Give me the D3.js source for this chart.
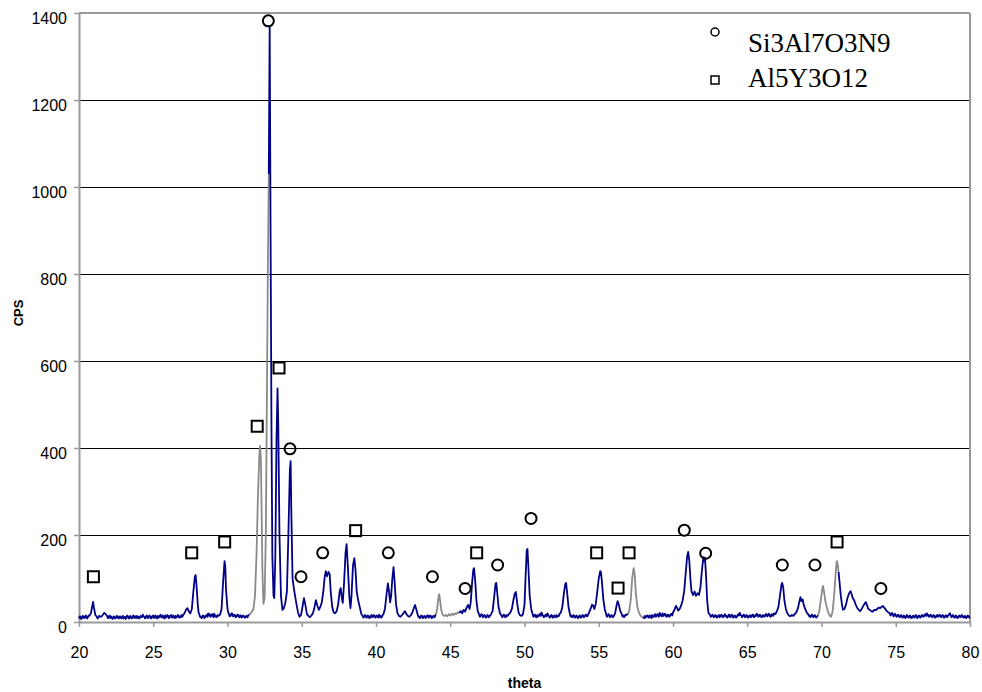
<!DOCTYPE html>
<html>
<head>
<meta charset="utf-8">
<script src="https://cdn.jsdelivr.net/npm/d3@7"></script>
<style>
  html, body { margin: 0; padding: 0; background: #fff; }
  svg { display: block; }
</style>
</head>
<body>
<svg id="chart" width="982" height="692"></svg>
<script>
// Diffraction pattern: [theta, counts per second]
const pattern = [
  [20.0,8],[20.05,13],[20.1,12],[20.15,7],[20.2,9],[20.25,14],[20.3,13],[20.35,9],[20.4,10],[20.45,15],[20.5,12],[20.55,8],[20.6,11],[20.65,15],[20.7,14],[20.8,20],[20.9,38],[20.95,46],[21.0,34],[21.1,16],[21.2,12],[21.25,8],[21.3,10],[21.35,14],[21.4,13],[21.5,12],[21.6,16],[21.7,21],[21.8,18],[21.9,13],[21.95,9],[22.0,11],
  [22.05,15],[22.1,9],[22.15,13],[22.2,12],[22.25,7],[22.3,8],[22.35,13],[22.4,11],[22.45,8],[22.5,10],[22.55,14],[22.6,13],[22.65,8],[22.7,9],[22.75,13],[22.8,12],[22.85,8],[22.9,10],[22.95,14],[23.0,8],[23.05,11],[23.1,12],[23.15,7],[23.2,10],[23.25,15],[23.3,13],[23.35,8],[23.4,9],[23.45,14],[23.5,11],[23.55,8],[23.6,10],[23.65,15],[23.7,14],[23.75,9],[23.8,11],[23.85,14],[23.9,9],[23.95,13],[24.0,12],
  [24.05,8],[24.1,10],[24.15,14],[24.2,13],[24.25,11],[24.3,17],[24.35,13],[24.4,12],[24.45,8],[24.5,10],[24.55,15],[24.6,14],[24.65,9],[24.7,11],[24.75,15],[24.8,13],[24.85,8],[24.9,10],[24.95,14],[25.0,15],[25.05,9],[25.1,12],[25.15,15],[25.2,10],[25.25,8],[25.3,14],[25.35,10],[25.4,11],[25.45,15],[25.5,17],[25.55,10],[25.6,12],[25.65,15],[25.7,10],[25.75,8],[25.8,15],[25.85,10],[25.9,12],[25.95,16],[26.0,14],
  [26.05,9],[26.1,11],[26.15,15],[26.2,16],[26.25,10],[26.3,12],[26.35,15],[26.4,10],[26.45,9],[26.5,14],[26.55,10],[26.6,12],[26.65,16],[26.7,15],[26.75,10],[26.8,13],[26.85,11],[26.9,16],[26.95,12],[27.0,15],[27.1,20],[27.2,28],[27.3,32],[27.4,24],[27.5,20],[27.6,30],[27.7,70],[27.8,104],[27.85,108],[27.9,90],[28.0,40],
  [28.05,22],[28.1,18],[28.15,12],[28.2,13],[28.25,9],[28.3,11],[28.35,15],[28.4,14],[28.45,9],[28.5,12],[28.55,15],[28.6,16],[28.65,12],[28.7,20],[28.75,15],[28.8,18],[28.85,12],[28.9,14],[28.95,18],[29.0,16],[29.05,11],[29.1,19],[29.15,13],[29.2,15],[29.25,11],[29.3,13],[29.35,16],[29.4,14],[29.5,17],[29.6,30],[29.7,90],[29.8,140],[29.85,128],[29.9,75],[30.0,30],
  [30.05,22],[30.1,18],[30.15,13],[30.2,14],[30.25,19],[30.3,20],[30.35,14],[30.4,13],[30.45,17],[30.5,16],[30.55,11],[30.6,12],[30.65,16],[30.7,17],[30.75,12],[30.8,11],[30.85,15],[30.9,15],[30.95,10],[31.0,12],[31.05,15],[31.1,14],[31.15,10],[31.2,10],[31.25,14],[31.3,13],[31.35,11],[31.4,16],
  [31.45,15],[31.55,20],[31.65,24],[31.75,30],[31.85,60],[31.95,150],[32.05,290],[32.15,390],[32.2,405],[32.25,370],[32.3,250],[32.35,120],[32.42,42],[32.5,55],[32.58,200],[32.65,500],[32.72,820],[32.78,1030],
  [32.84,1370],[32.9,900],[32.96,450],[33.02,150],[33.1,60],[33.15,55],[33.22,150],[33.3,420],[33.37,537],[33.42,450],[33.5,200],[33.6,60],[33.7,28],[33.8,32],[33.9,45],[34.0,70],[34.1,200],[34.2,350],[34.25,370],
  [34.3,250],[34.38,100],[34.45,82],[34.55,60],[34.65,40],[34.75,22],[34.85,12],[34.95,16],[35.05,35],[35.15,55],[35.25,38],[35.35,18],[35.45,14],[35.55,11],[35.65,15],[35.75,20],[35.85,32],[35.95,50],
  [36.05,38],[36.15,28],[36.25,35],[36.35,45],[36.45,70],[36.55,105],[36.62,117],[36.7,105],[36.8,115],[36.88,110],[36.95,70],[37.05,35],[37.15,22],[37.25,20],[37.35,25],[37.45,40],[37.55,70],[37.62,78],
  [37.7,55],[37.76,44],[37.85,90],[37.95,160],[38.02,179],[38.1,130],[38.2,60],[38.28,32],[38.35,60],[38.45,130],[38.54,147],[38.62,120],[38.7,70],[38.8,50],[38.9,35],[39.0,20],
  [39.05,16],[39.1,14],[39.15,10],[39.2,12],[39.25,16],[39.3,15],[39.35,10],[39.4,11],[39.45,15],[39.5,14],[39.55,9],[39.6,10],[39.65,14],[39.7,16],[39.75,11],[39.8,12],[39.85,16],[39.9,15],[39.95,10],[40.0,11],[40.05,15],[40.1,13],[40.15,10],[40.2,17],[40.25,12],[40.3,14],[40.35,10],[40.4,12],[40.45,16],[40.5,18],[40.6,30],[40.7,60],[40.8,89],[40.88,70],[40.95,45],
  [41.02,60],[41.1,100],[41.18,126],[41.26,90],[41.35,40],[41.45,20],[41.55,14],[41.65,12],[41.75,16],[41.85,20],[41.95,25],[42.05,18],[42.15,14],[42.25,12],[42.35,16],[42.45,22],[42.55,32],[42.63,39],
  [42.72,28],[42.8,18],[42.85,12],[42.9,13],[42.95,9],[43.0,11],[43.05,15],[43.1,14],[43.15,9],[43.2,10],[43.25,14],[43.3,13],[43.35,9],[43.4,12],[43.45,15],[43.5,15],[43.55,10],[43.6,11],[43.65,15],[43.7,14],[43.75,9],[43.8,10],[43.85,14],[43.9,13],[43.95,11],[44.0,16],[44.04,18],
  [44.12,30],[44.2,55],[44.25,64],[44.3,55],[44.38,30],[44.48,17],[44.6,14],[44.7,16],[44.8,13],[44.9,18],[45.0,15],[45.1,19],[45.2,16],[45.3,20],[45.4,18],[45.5,22],[45.6,21],
  [45.7,25],[45.8,20],[45.9,28],[46.0,24],[46.1,33],[46.2,39],[46.3,30],[46.38,45],[46.47,90],[46.55,120],[46.6,124],[46.68,95],[46.76,50],[46.85,25],[46.95,17],[47.0,12],[47.05,14],[47.1,18],[47.15,16],[47.2,11],[47.25,12],[47.3,16],[47.35,14],[47.4,10],
  [47.45,11],[47.5,16],[47.55,15],[47.6,11],[47.65,13],[47.75,18],[47.85,25],[47.95,55],[48.05,88],[48.1,90],[48.17,65],[48.25,35],[48.35,20],[48.45,15],[48.5,11],[48.55,13],[48.6,17],[48.65,16],[48.7,11],[48.75,12],[48.8,16],[48.85,14],[48.95,18],[49.05,22],
  [49.15,30],[49.25,50],[49.35,66],[49.42,69],[49.5,45],[49.6,22],[49.7,15],[49.8,14],[49.9,18],[50.0,40],[50.08,110],[50.15,165],[50.2,168],[50.27,120],[50.35,60],[50.45,30],[50.55,18],[50.6,12],[50.65,14],
  [50.7,17],[50.75,12],[50.8,11],[50.85,16],[50.9,12],[50.95,13],[51.0,17],[51.05,19],[51.1,14],[51.15,22],[51.2,17],[51.25,15],[51.3,11],[51.35,12],[51.4,16],[51.45,17],[51.5,13],[51.55,20],[51.6,15],[51.65,14],[51.7,10],[51.75,12],[51.8,16],[51.85,15],[51.9,10],[51.95,11],[52.0,15],[52.05,13],[52.1,11],[52.15,16],[52.2,12],[52.25,14],[52.3,13],[52.35,18],[52.45,22],
  [52.55,35],[52.65,65],[52.75,88],[52.8,90],[52.88,65],[52.96,35],[53.05,20],[53.1,13],[53.15,15],[53.2,11],[53.25,12],[53.3,16],[53.35,14],[53.4,10],[53.45,11],[53.5,15],[53.55,13],[53.6,9],[53.65,10],[53.7,15],[53.75,14],[53.8,10],[53.85,12],[53.9,16],[53.95,15],[54.0,11],[54.05,13],[54.1,16],[54.15,17],
  [54.2,13],[54.25,14],[54.35,22],[54.45,30],[54.55,40],[54.62,38],[54.7,30],[54.8,42],[54.9,70],[55.0,100],[55.1,117],[55.15,115],[55.22,90],[55.3,55],[55.4,30],[55.5,18],[55.55,12],[55.6,14],[55.65,18],[55.7,16],[55.75,11],[55.8,12],[55.85,16],[55.9,15],
  [55.95,11],[56.0,13],[56.1,20],[56.2,38],[56.27,48],[56.35,40],[56.45,25],[56.55,18],[56.6,13],[56.65,15],[56.7,11],[56.75,13],[56.8,17],[56.85,16],[56.97,18],
  [57.05,25],[57.15,50],[57.25,100],[57.35,124],[57.42,110],[57.5,65],[57.6,35],[57.7,22],[57.8,15],[57.9,12],[57.98,11],
  [58.05,9],[58.1,14],[58.15,10],[58.2,12],[58.25,15],[58.3,15],[58.35,10],[58.4,11],[58.45,15],[58.5,13],[58.55,9],[58.6,16],[58.65,12],[58.7,12],[58.75,16],[58.8,18],[58.85,12],[58.9,14],[58.95,18],[59.0,16],[59.05,12],[59.1,21],[59.15,15],[59.2,17],[59.25,13],[59.3,20],[59.35,14],[59.4,15],[59.45,19],[59.5,18],[59.55,12],[59.6,13],[59.65,17],[59.7,16],[59.75,12],[59.8,14],[59.85,18],[59.9,19],[59.95,15],[60.0,22],
  [60.1,28],[60.2,37],[60.27,33],[60.35,26],[60.45,30],[60.55,38],[60.65,50],[60.75,70],[60.85,110],[60.95,150],[61.02,161],[61.1,140],[61.18,95],[61.25,70],[61.35,62],[61.45,70],[61.55,60],[61.65,66],
  [61.75,62],[61.85,80],[61.95,120],[62.05,149],[62.1,140],[62.15,148],[62.22,110],[62.3,50],[62.38,22],[62.45,18],[62.5,16],[62.55,12],[62.6,13],[62.65,17],[62.7,15],[62.75,11],[62.8,12],[62.85,16],[62.9,14],[62.95,10],[63.0,11],[63.05,15],[63.1,16],[63.15,11],[63.2,13],[63.25,17],[63.3,15],[63.35,11],[63.4,12],
  [63.45,16],[63.5,18],[63.55,13],[63.6,14],[63.65,10],[63.7,12],[63.75,17],[63.8,16],[63.85,11],[63.9,13],[63.95,17],[64.0,15],[64.05,10],[64.1,11],[64.15,15],[64.2,14],[64.25,10],[64.3,12],[64.35,16],[64.4,18],[64.45,15],[64.5,21],[64.55,16],[64.6,15],[64.65,11],[64.7,13],[64.75,17],[64.8,16],[64.85,11],[64.9,12],[64.95,16],[65.0,14],[65.05,10],[65.1,11],[65.15,15],[65.2,15],[65.25,11],[65.3,13],[65.35,17],[65.4,16],
  [65.45,11],[65.5,12],[65.55,16],[65.6,14],[65.65,19],[65.7,17],[65.75,12],[65.8,13],[65.85,17],[65.9,15],[65.95,11],[66.0,12],[66.05,16],[66.1,16],[66.15,12],[66.2,14],[66.25,18],[66.3,18],[66.35,13],[66.4,15],[66.45,19],[66.5,17],[66.55,12],[66.6,13],[66.65,18],[66.7,16],[66.75,14],[66.8,20],[66.9,18],[67.0,25],[67.1,35],[67.2,60],[67.3,85],[67.35,90],
  [67.42,80],[67.5,50],[67.6,30],[67.7,20],[67.8,15],[67.9,13],[68.0,16],[68.1,14],[68.2,18],[68.3,22],[68.4,30],[68.5,45],[68.58,57],[68.65,48],[68.73,52],[68.8,40],[68.9,30],[69.0,22],[69.1,18],
  [69.15,14],[69.2,15],[69.25,11],[69.3,13],[69.35,17],[69.4,15],[69.45,11],[69.5,14],[69.55,16],[69.6,12],[69.65,10],[69.7,13],[69.77,15],
  [69.85,25],[69.95,50],[70.05,75],[70.1,83],[70.17,70],[70.25,50],[70.35,35],[70.45,22],[70.55,15],[70.65,12],[70.75,25],[70.85,60],[70.95,110],[71.02,138],[71.05,140],[71.1,130],[71.15,115],
  [71.22,90],[71.3,60],[71.38,40],[71.45,28],[71.55,30],[71.65,40],[71.75,55],[71.85,65],[71.95,71],[72.02,65],[72.1,55],[72.2,50],[72.3,40],[72.4,33],[72.5,28],[72.6,25],[72.7,30],[72.8,36],[72.9,42],
  [72.98,46],[73.05,40],[73.15,30],[73.25,28],[73.35,25],[73.45,24],[73.55,28],[73.65,27],[73.75,30],[73.85,33],[73.95,32],[74.05,35],[74.14,37],[74.22,33],[74.3,30],[74.4,25],[74.5,22],[74.6,20],
  [74.65,15],[74.7,17],[74.75,21],[74.8,18],[74.85,13],[74.9,15],[74.95,19],[75.0,16],[75.05,12],[75.1,13],[75.15,17],[75.2,15],[75.25,11],[75.3,12],[75.35,16],[75.4,14],[75.45,10],[75.5,11],[75.55,15],[75.6,13],[75.65,9],[75.7,12],[75.75,16],[75.8,14],[75.85,10],[75.9,11],[75.95,15],[76.0,13],[76.05,9],[76.1,10],[76.15,14],[76.2,14],[76.25,10],[76.3,12],[76.35,16],[76.4,13],[76.45,9],[76.5,11],[76.55,15],[76.6,14],
  [76.65,10],[76.7,12],[76.75,16],[76.8,16],[76.85,12],[76.9,13],[76.95,17],[77.0,18],[77.05,14],[77.1,20],[77.15,15],[77.2,16],[77.25,12],[77.3,13],[77.35,17],[77.4,15],[77.45,11],[77.5,12],[77.55,16],[77.6,14],[77.65,10],[77.7,11],[77.75,15],[77.8,16],[77.85,12],[77.9,13],[77.95,17],[78.0,15],[78.05,11],[78.1,12],[78.15,16],[78.2,14],[78.25,10],[78.3,11],[78.35,15],[78.4,15],[78.45,11],[78.5,13],[78.55,16],[78.6,18],
  [78.65,20],[78.7,15],[78.75,11],[78.8,12],[78.85,16],[78.9,14],[78.95,10],[79.0,11],[79.05,15],[79.1,13],[79.15,9],[79.2,10],[79.25,14],[79.3,15],[79.35,11],[79.4,12],[79.45,16],[79.5,14],[79.55,10],[79.6,10],[79.65,14],[79.7,13],[79.75,9],[79.8,11],[79.85,15],[79.9,14],[79.95,10],[80.0,12]
];

// theta intervals drawn in the second (grey) trace
const greyRanges = [[31.45, 32.78], [44.04, 45.6], [56.97, 57.98], [69.77, 71.15]];

// Reflection markers: [theta, cps]
const sialonPeaks = [
  [32.75,1382],[34.21,398],[34.95,104],[36.41,159],[40.83,159],[43.8,104],[46.0,77],[48.19,131],
  [50.44,238],[60.76,211],[62.2,158],[67.36,131],[69.56,131],[74.0,77]
];
const yagPeaks = [
  [20.97,104],[27.59,159],[29.81,184],[32.0,450],[33.47,584],[38.63,210],[46.78,159],
  [54.86,159],[56.3,78],[57.04,159],[71.05,184]
];

const phaseNames = ["Si3Al7O3N9", "Al5Y3O12"];
const xTicks = [20, 25, 30, 35, 40, 45, 50, 55, 60, 65, 70, 75, 80];
const yTicks = [0, 200, 400, 600, 800, 1000, 1200, 1400];

(function drawChart() {
  const svg = d3.select("#chart");
  const plotLeft = 79, plotRight = 970, plotTop = 13, plotBottom = 622;

  const x = d3.scaleLinear().domain([20, 80]).range([plotLeft, plotRight]);
  const y = d3.scaleLinear().domain([0, 1400]).range([plotBottom, plotTop]);

  const axisGrey = "#999999";

  // horizontal gridlines
  svg.append("g")
    .selectAll("line")
    .data(yTicks.filter(v => v > 0 && v < 1400))
    .join("line")
    .attr("x1", plotLeft).attr("x2", plotRight)
    .attr("y1", d => y(d) + 0.5).attr("y2", d => y(d) + 0.5)
    .attr("stroke", "#000").attr("stroke-width", 1);

  // frame (top, right)
  svg.append("line").attr("x1", plotLeft).attr("x2", plotRight).attr("y1", plotTop).attr("y2", plotTop)
    .attr("stroke", axisGrey).attr("stroke-width", 2);
  svg.append("line").attr("x1", plotRight).attr("x2", plotRight).attr("y1", plotTop).attr("y2", plotBottom)
    .attr("stroke", axisGrey).attr("stroke-width", 2);

  const yAxis = svg.append("g")
    .attr("transform", `translate(${plotLeft},0)`)
    .call(d3.axisLeft(y).tickValues(yTicks).tickFormat(d3.format("d"))
      .tickSize(5).tickSizeOuter(0).tickPadding(7));
  yAxis.select(".domain").attr("stroke", axisGrey).attr("stroke-width", 2);
  yAxis.selectAll(".tick line").attr("stroke", axisGrey).attr("stroke-width", 1.5);
  yAxis.selectAll(".tick text")
    .attr("fill", "#000")
    .attr("dy", "0.66em")
    .style("font-family", "'Liberation Sans', Arial, sans-serif")
    .style("font-size", "16px");

  const xAxis = svg.append("g")
    .attr("transform", `translate(0,${plotBottom})`)
    .call(d3.axisBottom(x).tickValues(xTicks).tickSize(5).tickSizeOuter(0).tickPadding(20));
  xAxis.select(".domain").attr("stroke", axisGrey).attr("stroke-width", 2);
  xAxis.selectAll(".tick line").attr("stroke", axisGrey).attr("stroke-width", 1.5);
  xAxis.selectAll(".tick text")
    .attr("fill", "#000")
    .style("font-family", "'Liberation Sans', Arial, sans-serif")
    .style("font-size", "16px");

  // axis titles
  svg.append("text")
    .attr("x", (plotLeft + plotRight) / 2).attr("y", 688)
    .attr("text-anchor", "middle")
    .style("font-family", "'Liberation Sans', Arial, sans-serif")
    .style("font-size", "14px").style("font-weight", "bold")
    .text("theta");

  svg.append("text")
    .attr("transform", "translate(23,313) rotate(-90)")
    .attr("text-anchor", "middle")
    .style("font-family", "'Liberation Sans', Arial, sans-serif")
    .style("font-size", "13px").style("font-weight", "bold")
    .text("CPS");

  // traces
  const inGrey = t => greyRanges.some(([a, b]) => t >= a && t <= b);
  const inGreyInner = t => greyRanges.some(([a, b]) => t > a && t < b);

  const greyLine = d3.line()
    .defined(d => inGrey(d[0]))
    .x(d => x(d[0])).y(d => y(d[1]));
  const navyLine = d3.line()
    .defined(d => !inGreyInner(d[0]))
    .x(d => x(d[0])).y(d => y(d[1]));

  svg.append("path")
    .datum(pattern)
    .attr("d", greyLine)
    .attr("fill", "none").attr("stroke", "#8a8a8a").attr("stroke-width", 1.8)
    .attr("stroke-linejoin", "round");

  svg.append("path")
    .datum(pattern)
    .attr("d", navyLine)
    .attr("fill", "none").attr("stroke", "#000088").attr("stroke-width", 1.8)
    .attr("stroke-linejoin", "round");

  // reflection markers
  svg.append("g")
    .selectAll("circle")
    .data(sialonPeaks)
    .join("circle")
    .attr("cx", d => x(d[0])).attr("cy", d => y(d[1]))
    .attr("r", 5.5)
    .attr("fill", "none").attr("stroke", "#000").attr("stroke-width", 2);

  svg.append("g")
    .selectAll("rect")
    .data(yagPeaks)
    .join("rect")
    .attr("x", d => x(d[0]) - 5.5).attr("y", d => y(d[1]) - 5.5)
    .attr("width", 11).attr("height", 11)
    .attr("fill", "none").attr("stroke", "#000").attr("stroke-width", 2);

  // legend
  const legend = svg.append("g");
  legend.append("circle")
    .attr("cx", 715).attr("cy", 32).attr("r", 4)
    .attr("fill", "none").attr("stroke", "#000").attr("stroke-width", 1.5);
  legend.append("rect")
    .attr("x", 711).attr("y", 76).attr("width", 8).attr("height", 8)
    .attr("fill", "none").attr("stroke", "#000").attr("stroke-width", 1.5);
  legend.selectAll("text")
    .data(phaseNames)
    .join("text")
    .attr("x", 748)
    .attr("y", (d, i) => 52 + i * 35)
    .style("font-family", "'Liberation Serif', 'Times New Roman', serif")
    .style("font-size", "27px")
    .attr("fill", "#000")
    .text(d => d);
})();
</script>
</body>
</html>
